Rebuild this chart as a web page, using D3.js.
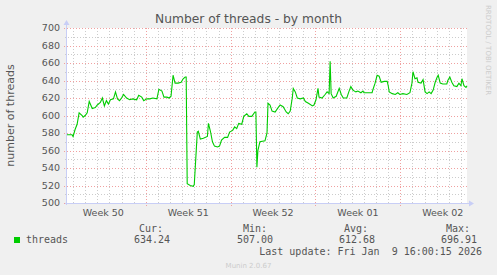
<!DOCTYPE html>
<html>
<head>
<meta charset="utf-8">
<script src="https://cdn.jsdelivr.net/npm/d3@7.8.5/dist/d3.min.js"></script>
<style>
  html, body { margin: 0; padding: 0; background: #f0f0f0; }
  svg { display: block; }
  text { font-family: "DejaVu Sans", sans-serif; fill: #555; }
  .mono { font-family: "DejaVu Sans Mono", monospace; white-space: pre; }
</style>
</head>
<body>
<div id="chart"></div>
<script>
const title = "Number of threads - by month"
const yLabel = "number of threads"
const seriesName = "threads"
const seriesColor = "#00cc00"

// munin month graph: 33 days ending at the last update
const startTime = Date.UTC(2025, 11, 7, 12)
const endTime = Date.UTC(2026, 0, 9, 12)

const hoursSinceStart = [
  0, 10, 12, 16, 20, 24, 30, 32, 36, 40, 44, 50, 56, 60, 66, 70, 74, 78, 82, 86,
  92, 96, 100, 104, 108, 112, 118, 124, 130, 138, 142, 148, 152, 158, 164, 170, 178, 182, 188, 192,
  198, 202, 206, 210, 214, 220, 226, 230, 234, 236, 238, 244, 250, 252, 258, 260, 264, 270, 278, 280,
  284, 288, 292, 298, 302, 306, 312, 318, 322, 328, 332, 336, 340, 346, 350, 356, 360, 366, 372, 374,
  376, 378, 382, 392, 396, 398, 402, 406, 412, 418, 422, 428, 434, 438, 442, 446, 448, 452, 456, 462,
  468, 472, 478, 486, 489, 493, 497, 499, 505, 511, 515, 519, 521, 523, 527, 533, 539, 543, 547, 554,
  558, 562, 566, 572, 576, 582, 586, 588, 594, 604, 606, 610, 614, 618, 622, 628, 634, 636, 638, 644,
  650, 655, 659, 665, 673, 679, 683, 685, 689, 693, 695, 701, 705, 709, 713, 717, 721, 725, 729, 733,
  735, 739, 744, 752, 754, 758, 762, 766, 772, 776, 780, 782, 786, 790, 792
]
const threads = [
  578, 578, 576, 584, 590, 603, 600, 598, 600, 603, 616, 608, 609, 612, 615, 620, 611, 617, 613, 618,
  619, 627, 619, 617, 620, 624, 620, 618, 619, 618, 623, 621, 617, 619, 619, 620, 619, 630, 628, 621,
  621, 620, 622, 646, 637, 637, 638, 642, 644, 644, 522, 520, 519, 521, 581, 582, 573, 574, 576, 591,
  582, 570, 565, 564, 565, 572, 575, 575, 581, 583, 587, 585, 591, 590, 599, 602, 599, 599, 604, 604,
  541, 560, 570, 571, 580, 614, 612, 605, 604, 609, 612, 610, 604, 602, 605, 620, 631, 627, 620, 619,
  620, 616, 614, 611, 612, 618, 631, 621, 620, 624, 627, 625, 662, 625, 620, 622, 631, 624, 620, 620,
  627, 633, 629, 627, 628, 626, 628, 626, 626, 626, 630, 637, 646, 645, 638, 639, 639, 634, 627, 625,
  624, 626, 624, 625, 624, 626, 637, 650, 642, 643, 638, 637, 641, 627, 625, 627, 625, 629, 638, 644,
  646, 637, 636, 636, 640, 644, 638, 634, 633, 637, 634, 642, 634, 632, 634
]

const yDomain = [500, 700]
const yMinorStep = 10
const yMajorStep = 20

const summaryLabels = ["Cur:", "Min:", "Avg:", "Max:"]
const summaryValues = ["634.24", "507.00", "612.68", "696.91"]
const lastUpdate = "Last update: Fri Jan  9 16:00:15 2026"
const footer = "Munin 2.0.67"
const watermark = "RRDTOOL / TOBI OETIKER"

const width = 497, height = 275
const plot = {left: 67, right: 467, top: 28, bottom: 203}

const data = hoursSinceStart.map((h, i) => ({t: new Date(startTime + h * 3600e3), v: threads[i]}))

const x = d3.scaleUtc().domain([startTime, endTime]).range([plot.left, plot.right])
const y = d3.scaleLinear().domain(yDomain).range([plot.bottom, plot.top])
const px = v => Math.round(v) + 0.5

const svg = d3.select("#chart").append("svg")
  .attr("width", width)
  .attr("height", height)

svg.append("rect").attr("width", width).attr("height", height).attr("fill", "#f0f0f0")
svg.append("rect")
  .attr("x", plot.left).attr("y", plot.top)
  .attr("width", plot.right - plot.left).attr("height", plot.bottom - plot.top)
  .attr("fill", "#ffffff")

const grid = svg.append("g").attr("stroke-dasharray", "1,2").attr("stroke-width", 1)

// minor grid
const days = d3.utcDay.range(new Date(startTime), new Date(endTime))
const yMinor = d3.range(yDomain[0], yDomain[1] + 1, yMinorStep)
grid.selectAll(".vminor").data(days.filter(d => d.getUTCDay() !== 0)).join("line")
  .attr("x1", d => px(x(d))).attr("x2", d => px(x(d)))
  .attr("y1", plot.top).attr("y2", plot.bottom + 2)
  .attr("stroke", "#cccccc")
grid.selectAll(".hminor").data(yMinor.filter(v => v % yMajorStep !== 0)).join("line")
  .attr("x1", plot.left - 2).attr("x2", plot.right)
  .attr("y1", d => px(y(d))).attr("y2", d => px(y(d)))
  .attr("stroke", "#cccccc")

// major grid
const sundays = d3.utcSunday.range(new Date(startTime), new Date(endTime))
const yMajor = d3.range(yDomain[0], yDomain[1] + 1, yMajorStep)
grid.selectAll(".vmajor").data(sundays).join("line")
  .attr("x1", d => px(x(d))).attr("x2", d => px(x(d)))
  .attr("y1", plot.top).attr("y2", plot.bottom + 3)
  .attr("stroke", "#f0a0a0")
grid.selectAll(".hmajor").data(yMajor).join("line")
  .attr("x1", plot.left - 3).attr("x2", plot.right)
  .attr("y1", d => px(y(d))).attr("y2", d => px(y(d)))
  .attr("stroke", "#f0a0a0")

// axes with arrows
const axisColor = "#c8cef6"
svg.append("line")
  .attr("x1", plot.left - 0.5).attr("x2", plot.left - 0.5)
  .attr("y1", plot.bottom + 2).attr("y2", plot.top - 5)
  .attr("stroke", axisColor)
svg.append("line")
  .attr("x1", plot.left - 2).attr("x2", plot.right + 4)
  .attr("y1", plot.bottom + 0.5).attr("y2", plot.bottom + 0.5)
  .attr("stroke", axisColor)
svg.append("path")
  .attr("d", `M${plot.left - 3.5},${plot.top - 3}L${plot.left - 0.5},${plot.top - 8}L${plot.left + 2.5},${plot.top - 3}Z`)
  .attr("fill", axisColor)
svg.append("path")
  .attr("d", `M${plot.right + 2},${plot.bottom - 2.5}L${plot.right + 7},${plot.bottom + 0.5}L${plot.right + 2},${plot.bottom + 3.5}Z`)
  .attr("fill", axisColor)

// y tick labels
svg.append("g").selectAll("text").data(yMajor).join("text")
  .attr("x", plot.left - 7)
  .attr("y", d => y(d))
  .attr("dy", "0.36em")
  .attr("text-anchor", "end")
  .attr("font-size", 9.5)
  .text(d => d)

// week labels centred in each week
const weekFormat = d3.utcFormat("Week %V")
const weekMids = d3.utcSunday.range(d3.utcSunday.floor(new Date(startTime)), new Date(endTime))
  .map(d => d3.utcHour.offset(d, 84))
  .filter(d => d >= startTime && d <= endTime)
svg.append("g").selectAll("text").data(weekMids).join("text")
  .attr("x", d => x(d))
  .attr("y", plot.bottom + 13)
  .attr("text-anchor", "middle")
  .attr("font-size", 9.5)
  .text(d => weekFormat(d))

// series
svg.append("path")
  .datum(data)
  .attr("fill", "none")
  .attr("stroke", seriesColor)
  .attr("stroke-width", 1.1)
  .attr("d", d3.line().x(d => x(d.t)).y(d => y(d.v)))

// title and axis label
svg.append("text")
  .attr("x", width / 2).attr("y", 23)
  .attr("text-anchor", "middle")
  .attr("font-size", 12.3)
  .text(title)
svg.append("text")
  .attr("transform", `translate(14,${(plot.top + plot.bottom) / 2}) rotate(-90)`)
  .attr("text-anchor", "middle")
  .attr("font-size", 11)
  .text(yLabel)
svg.append("text")
  .attr("transform", "translate(486,5) rotate(90)")
  .attr("font-size", 7)
  .style("fill", "#cccccc")
  .text(watermark)

// legend
svg.append("rect")
  .attr("x", 14).attr("y", 237).attr("width", 6).attr("height", 6)
  .attr("fill", seriesColor)
svg.append("text").attr("class", "mono")
  .attr("x", 26).attr("y", 243).attr("font-size", 10)
  .text(seriesName)

const labelEnds = [163, 267, 368, 470]
const valueEnds = [170, 273, 375, 477]
svg.append("g").selectAll("text").data(summaryLabels).join("text")
  .attr("class", "mono")
  .attr("x", (d, i) => labelEnds[i]).attr("y", 232)
  .attr("text-anchor", "end").attr("font-size", 10)
  .text(d => d)
svg.append("g").selectAll("text").data(summaryValues).join("text")
  .attr("class", "mono")
  .attr("x", (d, i) => valueEnds[i]).attr("y", 243)
  .attr("text-anchor", "end").attr("font-size", 10)
  .text(d => d)
svg.append("text").attr("class", "mono")
  .attr("x", 482).attr("y", 255)
  .attr("text-anchor", "end").attr("font-size", 10)
  .text(lastUpdate)

svg.append("text")
  .attr("x", width / 2).attr("y", 268)
  .attr("text-anchor", "middle")
  .attr("font-size", 7)
  .style("fill", "#cccccc")
  .text(footer)
</script>
</body>
</html>
